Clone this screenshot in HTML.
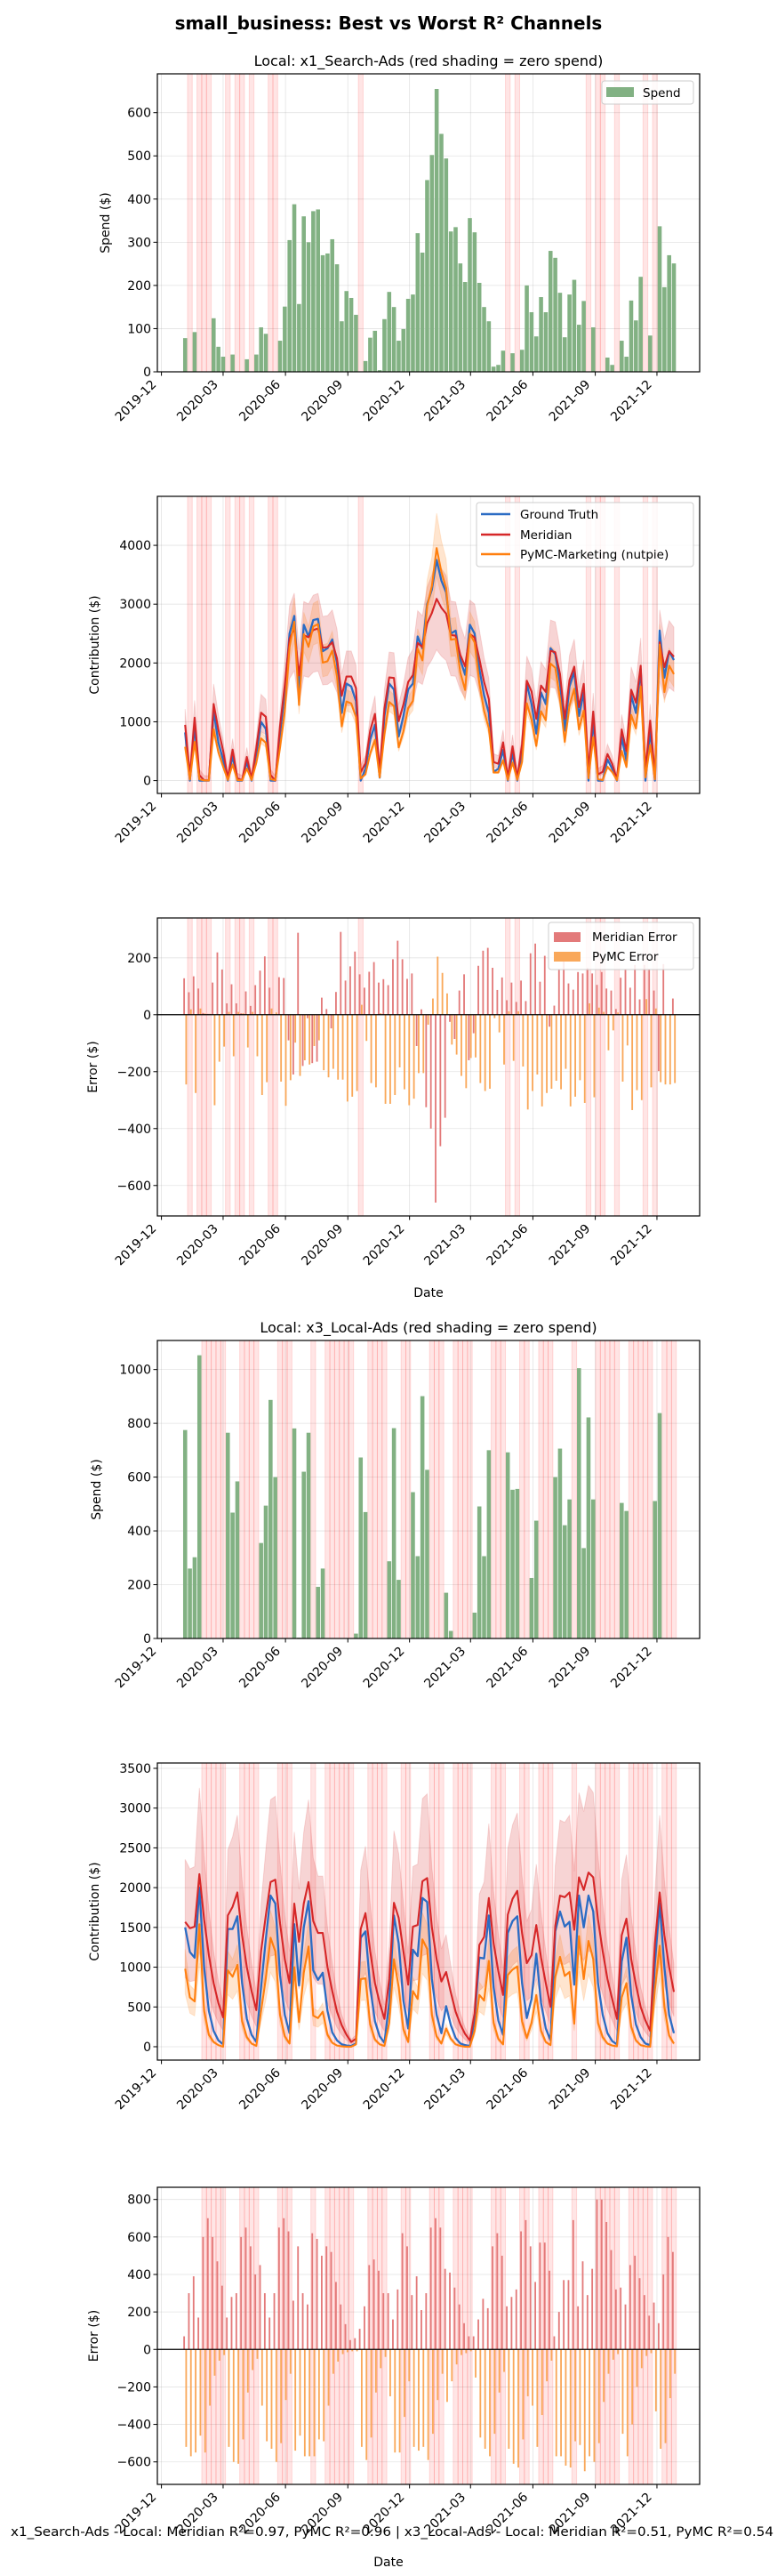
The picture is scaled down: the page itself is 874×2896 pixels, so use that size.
<!DOCTYPE html>
<html>
<head>
<meta charset="utf-8">
<style>
  html, body { margin: 0; padding: 0; background: #ffffff; }
  svg { display: block; font-family: "DejaVu Sans", "Liberation Sans", sans-serif; }
</style>
</head>
<body>
<svg id="fig" width="874" height="2896" viewBox="0 0 874 2896" xmlns="http://www.w3.org/2000/svg">
  <rect x="0" y="0" width="874" height="2896" fill="#ffffff"/>
  <text x="437" y="33" text-anchor="middle" font-size="20" font-weight="bold" fill="#000">small_business: Best vs Worst R² Channels</text>
  <text x="482" y="74" text-anchor="middle" font-size="16" fill="#000">Local: x1_Search-Ads (red shading = zero spend)</text>
  <text x="482" y="1498" text-anchor="middle" font-size="16" fill="#000">Local: x3_Local-Ads (red shading = zero spend)</text>
  <text x="482" y="1458" text-anchor="middle" font-size="14" fill="#000">Date</text>
  <text x="441" y="2851" text-anchor="middle" font-size="14" textLength="858" lengthAdjust="spacingAndGlyphs" fill="#000">x1_Search-Ads - Local: Meridian R²=0.97, PyMC R²=0.96 | x3_Local-Ads - Local: Meridian R²=0.51, PyMC R²=0.54</text>
  <text x="437" y="2885" text-anchor="middle" font-size="14" fill="#000">Date</text>
</svg>
<script>
// ---------- data: channel x1_Search-Ads ----------
const x1Spend = [78,0,92,0,0,0,124,58,35,0,
40,0,0,29,0,40,103,88,0,0,
72,151,305,388,157,360,300,372,376,270,
274,307,249,117,187,171,132,0,25,79,
95,4,122,185,150,72,99,169,179,321,
276,444,502,655,551,494,325,335,251,208,
356,323,206,150,117,12,16,49,0,43,
0,51,200,138,82,173,138,280,264,183,
80,179,213,109,164,0,103,0,0,33,
16,0,72,35,165,119,220,0,84,0,
337,196,270,251];
const x1Truth = [820,0,935,0,0,0,1190,650,350,0,
420,0,0,320,0,450,1000,880,0,0,
800,1500,2500,2800,1500,2650,2450,2730,2750,2200,
2250,2400,2000,1150,1650,1600,1350,0,200,700,
950,50,1100,1650,1550,750,1100,1550,1650,2450,
2250,3000,3250,3750,3400,3200,2500,2550,2050,1800,
2650,2500,1900,1450,1150,150,200,520,0,470,
0,500,1650,1300,800,1500,1300,2250,2150,1650,
850,1600,1850,1100,1500,0,1030,0,0,360,
200,0,740,340,1450,1150,1900,0,860,0,
2550,1750,2200,2050];
const x1MerErr = [128,79,135,92,6,3,113,219,159,40,
107,40,5,82,31,104,155,205,95,0,
132,129,-90,-210,288,-180,-12,-170,-165,60,
20,-48,80,291,120,170,222,142,95,151,
185,113,125,104,195,260,195,126,145,-110,
19,-325,-400,-660,-462,-362,-25,-85,85,142,
-160,-65,172,225,235,165,87,131,51,113,
45,120,48,216,250,116,207,-42,32,160,
200,110,88,150,145,165,145,105,150,92,
85,20,130,160,95,175,54,175,160,85,
-198,178,0,57];
const x1PyErr = [-245,19,-275,22,4,3,-318,-165,-112,10,
-146,10,5,-115,10,-146,-282,-237,22,8,
-235,-320,-230,-98,-215,-160,-175,-110,-90,-195,
-220,-190,-228,-228,-305,-288,-268,35,-92,-240,
-255,5,-313,-313,-282,-185,-262,-318,-295,-205,
-205,-35,57,204,147,75,-105,-140,-215,-258,
-152,-150,-240,-268,-260,-12,-62,-175,12,-162,
12,-182,-333,-268,-210,-322,-275,-260,-232,-262,
-190,-322,-288,-230,-310,40,-290,25,10,-125,
-55,8,-235,-108,-335,-265,-300,55,-255,22,
-237,-245,-245,-240];

// ---------- data: channel x3_Local-Ads ----------
const x3Spend = [775,260,302,1053,0,0,0,0,0,765,
468,584,0,0,0,0,355,494,887,600,
0,0,0,781,3,620,765,0,192,260,
0,0,0,0,0,0,18,673,470,0,
0,0,0,287,782,218,0,0,544,306,
901,627,0,0,0,170,28,0,0,0,
0,96,491,306,700,0,0,0,692,553,
556,0,0,225,438,0,0,0,600,706,
421,517,0,1005,336,822,517,0,0,0,
0,0,504,474,0,0,0,0,0,511,
838,0,0,0];
const x3Truth = [1500,1190,1120,2000,1000,450,200,80,30,1480,
1480,1640,800,350,150,60,750,1350,1900,1800,
900,400,170,1540,770,1500,1830,960,840,930,
450,180,80,30,15,10,40,1370,1450,750,
320,130,50,550,1650,1300,580,230,1220,1140,
1870,1820,850,400,170,510,270,110,40,20,
10,350,1120,1110,1650,750,330,150,1430,1580,
1640,800,360,600,1170,550,230,80,1450,1700,
1510,1570,780,1900,1500,1900,1700,800,400,170,
70,30,1070,1370,650,280,120,40,20,1050,
1800,1000,400,170];
const x3Meridian = [1570,1490,1510,2170,1600,1150,800,550,370,1650,
1760,1940,1400,1000,700,460,1200,1650,2070,2100,
1550,1100,800,1800,1320,1800,2070,1580,1430,1430,
1000,700,440,270,150,60,100,1480,1680,1200,
800,550,350,850,1810,1620,1200,780,1510,1530,
2080,2120,1500,1100,820,940,680,440,280,160,
80,420,1280,1380,1870,1300,950,650,1660,1860,
1960,1430,1050,1150,1530,1120,800,500,1520,1900,
1880,1940,1470,2130,1970,2190,2130,1600,1200,850,
600,350,1400,1610,1100,780,500,330,200,1300,
1940,1400,1000,690];
const x3PyMC = [980,620,570,1540,450,150,60,20,0,960,
880,1030,320,120,40,10,450,860,1370,1200,
400,130,40,1000,310,930,1260,390,360,440,
150,50,15,5,0,0,30,850,860,280,
90,30,10,300,1100,750,220,60,700,600,
1350,1230,400,130,40,230,100,30,10,0,
0,200,650,580,1080,300,100,30,900,970,
1010,320,110,300,650,200,60,20,880,1130,
890,940,290,1390,850,1330,1100,300,120,40,
15,5,620,800,250,80,20,5,0,720,
1270,500,140,40];

// ---------- tick labels ----------
const xTickDays = [0,91,183,275,366,456,548,640,731];
const xTickLabels = ['2019-12','2020-03','2020-06','2020-09','2020-12','2021-03','2021-06','2021-09','2021-12'];
const ticksSpend1 = [0,100,200,300,400,500,600];
const ticksContrib1 = [0,1000,2000,3000,4000];
const ticksErr1 = [-600,-400,-200,0,200];
const ticksSpend3 = [0,200,400,600,800,1000];
const ticksContrib3 = [0,500,1000,1500,2000,2500,3000,3500];
const ticksErr3 = [-600,-400,-200,0,200,400,600,800];

// ---------- layout ----------
const NS = 'http://www.w3.org/2000/svg';
const svg = document.getElementById('fig');
const L = 177, R = 787, D0 = -6, D1 = 794, START = 35;
function xd(d) { return L + (d - D0) / (D1 - D0) * (R - L); }
function weekDay(i) { return START + 7 * i; }
function xi(i) { return xd(weekDay(i)); }
function mk(tag, attrs, parent) {
  const e = document.createElementNS(NS, tag);
  for (const k in attrs) e.setAttribute(k, attrs[k]);
  (parent || svg).appendChild(e);
  return e;
}
function fmt(v) { return v < 0 ? '\u2212' + Math.abs(v) : String(v); }

function makePanel(id, top, bot, ymin, ymax) {
  const g = mk('g', {});
  
  
  const cp = mk('clipPath', { id: id + '-clip' }, g);
  mk('rect', { x: L, y: top, width: R - L, height: bot - top }, cp);
  const y = v => bot - (v - ymin) / (ymax - ymin) * (bot - top);
  return { id, top, bot, ymin, ymax, y, g, clip: 'url(#' + id + '-clip)' };
}

function drawGridAndShading(p, yticks, spend) {
  const gg = mk('g', {}, p.g);
  
  
  xTickDays.forEach(d => {
    mk('line', { x1: xd(d), x2: xd(d), y1: p.top, y2: p.bot, stroke: '#b0b0b0', 'stroke-opacity': 0.35, 'stroke-width': 0.8 }, gg);
  });
  yticks.forEach(v => {
    mk('line', { x1: L, x2: R, y1: p.y(v), y2: p.y(v), stroke: '#b0b0b0', 'stroke-opacity': 0.35, 'stroke-width': 0.8 }, gg);
  });
  const sg = mk('g', { 'clip-path': p.clip }, p.g);
  
  
  spend.forEach((v, i) => {
    if (v === 0) {
      const a = xd(weekDay(i) - 3.5), b = xd(weekDay(i) + 3.5);
      const r = mk('rect', { x: a, y: p.top, width: b - a, height: p.bot - p.top, fill: '#ff0000', 'fill-opacity': 0.1, stroke: '#ff0000', 'stroke-opacity': 0.12, 'stroke-width': 1 }, sg);
      
      
    }
  });
}

function finishAxes(p, yticks, ylabel, ylabX) {
  const fr = mk('rect', { x: L, y: p.top, width: R - L, height: p.bot - p.top, fill: 'none', stroke: '#000', 'stroke-width': 1.2 }, p.g);
  
  
  const xa = mk('g', {}, p.g);
  
  
  xTickDays.forEach((d, k) => {
    const x = xd(d);
    mk('line', { x1: x, x2: x, y1: p.bot, y2: p.bot + 4.5, stroke: '#000', 'stroke-width': 1 }, xa);
    const t = mk('text', { transform: 'translate(' + (x - 5) + ',' + (p.bot + 15) + ') rotate(-45)', 'text-anchor': 'end', 'font-size': 14, fill: '#000' }, xa);
    t.textContent = xTickLabels[k];
    
    
  });
  const ya = mk('g', {}, p.g);
  
  
  yticks.forEach(v => {
    const y = p.y(v);
    mk('line', { x1: L - 4.5, x2: L, y1: y, y2: y, stroke: '#000', 'stroke-width': 1 }, ya);
    const t = mk('text', { x: L - 7, y: y + 5, 'text-anchor': 'end', 'font-size': 14, fill: '#000' }, ya);
    t.textContent = fmt(v);
    
    
  });
  const mid = (p.top + p.bot) / 2;
  const yl = mk('text', { transform: 'translate(' + ylabX + ',' + mid + ') rotate(-90)', 'text-anchor': 'middle', 'font-size': 14, fill: '#000' }, p.g);
  yl.textContent = ylabel;
  
  
}

function drawSpendBars(p, spend) {
  const bg = mk('g', { 'clip-path': p.clip }, p.g);
  
  
  spend.forEach((v, i) => {
    if (v <= 0) return;
    const a = xd(weekDay(i) - 3), b = xd(weekDay(i) + 3);
    const r = mk('rect', { x: a, y: p.y(v), width: b - a, height: p.y(0) - p.y(v), fill: '#82b183' }, bg);
    
    
  });
}

function linePath(p, vals) {
  return vals.map((v, i) => (i ? 'L' : 'M') + xi(i).toFixed(2) + ',' + p.y(v).toFixed(2)).join(' ');
}
function bandPath(p, lo, hi) {
  let d = hi.map((v, i) => (i ? 'L' : 'M') + xi(i).toFixed(2) + ',' + p.y(v).toFixed(2)).join(' ');
  for (let i = lo.length - 1; i >= 0; i--) d += ' L' + xi(i).toFixed(2) + ',' + p.y(lo[i]).toFixed(2);
  return d + ' Z';
}

function drawContribution(p, truth, mer, py, merLoF, merHiF, merHiAdd, pyLoF, pyHiF) {
  const cg = mk('g', { 'clip-path': p.clip }, p.g);
  
  
  const mb = mk('path', { d: bandPath(p, mer.map(v => v * merLoF), mer.map(v => v * merHiF + merHiAdd)), fill: '#d62728', 'fill-opacity': 0.2, stroke: '#d62728', 'stroke-opacity': 0.15 }, cg);
  
  
  const pb = mk('path', { d: bandPath(p, py.map(v => v * pyLoF), py.map(v => v * pyHiF)), fill: '#ff7f0e', 'fill-opacity': 0.2, stroke: '#ff7f0e', 'stroke-opacity': 0.15 }, cg);
  
  
  const gl = mk('path', { d: linePath(p, truth), fill: 'none', stroke: '#2b6cc4', 'stroke-width': 2.3, 'stroke-linejoin': 'round' }, cg);
  
  
  const ml = mk('path', { d: linePath(p, mer), fill: 'none', stroke: '#d62728', 'stroke-width': 2.1, 'stroke-linejoin': 'round' }, cg);
  
  
  const pl = mk('path', { d: linePath(p, py), fill: 'none', stroke: '#ff7f0e', 'stroke-width': 2.1, 'stroke-linejoin': 'round' }, cg);
  
  
}

function drawErrors(p, merErr, pyErr) {
  const eg = mk('g', { 'clip-path': p.clip }, p.g);
  
  
  merErr.forEach((v, i) => {
    const a = xd(weekDay(i) - 2.7), b = xd(weekDay(i) - 0.3);
    const y0 = p.y(0), y1 = p.y(v);
    const r = mk('rect', { x: a, y: Math.min(y0, y1), width: b - a, height: Math.abs(y1 - y0), fill: '#e37a7a' }, eg);
    
    
  });
  pyErr.forEach((v, i) => {
    const a = xd(weekDay(i) + 0.3), b = xd(weekDay(i) + 2.7);
    const y0 = p.y(0), y1 = p.y(v);
    const r = mk('rect', { x: a, y: Math.min(y0, y1), width: b - a, height: Math.abs(y1 - y0), fill: '#f9a85a' }, eg);
    
    
  });
  const z = mk('line', { x1: L, x2: R, y1: p.y(0), y2: p.y(0), stroke: '#000', 'stroke-width': 1.3 }, p.g);
  
  
}

function legendBox(parent, x, y, w, h, name) {
  const g = mk('g', {}, parent);
  
  
  mk('rect', { x, y, width: w, height: h, rx: 3, fill: '#ffffff', 'fill-opacity': 0.85, stroke: '#cccccc', 'stroke-width': 1 }, g);
  return g;
}
function legendText(g, x, y, s, name) {
  const t = mk('text', { x, y: y + 5, 'font-size': 13.5, fill: '#000' }, g);
  t.textContent = s;
  
  
}

// ---------- Panel 1: x1 spend ----------
const p1 = makePanel('panel1-spend', 83, 418, 0, 690);
drawGridAndShading(p1, ticksSpend1, x1Spend);
drawSpendBars(p1, x1Spend);
finishAxes(p1, ticksSpend1, 'Spend ($)', 123);
{
  const g = legendBox(p1.g, 677, 91, 103, 26, 'panel1-legend');
  mk('rect', { x: 682, y: 98, width: 31, height: 11, fill: '#82b183' }, g);
  legendText(g, 723, 104, 'Spend', 'legend-entry-spend');
}

// ---------- Panel 2: x1 contribution ----------
const x1Meridian = x1Truth.map((v, i) => v + x1MerErr[i]);
const x1PyMC = x1Truth.map((v, i) => v + x1PyErr[i]);
const p2 = makePanel('panel2-contribution', 558, 892, -218, 4833);
drawGridAndShading(p2, ticksContrib1, x1Spend);
drawContribution(p2, x1Truth, x1Meridian, x1PyMC, 0.72, 1.2, 80, 0.88, 1.15);
finishAxes(p2, ticksContrib1, 'Contribution ($)', 111);
{
  const g = legendBox(p2.g, 536, 565, 244, 72, 'panel2-legend');
  mk('line', { x1: 541, x2: 574, y1: 578, y2: 578, stroke: '#2b6cc4', 'stroke-width': 2.5 }, g);
  legendText(g, 585, 578, 'Ground Truth', 'legend-entry-ground-truth');
  mk('line', { x1: 541, x2: 574, y1: 601, y2: 601, stroke: '#d62728', 'stroke-width': 2.5 }, g);
  legendText(g, 585, 601, 'Meridian', 'legend-entry-meridian');
  mk('line', { x1: 541, x2: 574, y1: 623, y2: 623, stroke: '#ff7f0e', 'stroke-width': 2.5 }, g);
  legendText(g, 585, 623, 'PyMC-Marketing (nutpie)', 'legend-entry-pymc');
}

// ---------- Panel 3: x1 errors ----------
const p3 = makePanel('panel3-error', 1032, 1367, -707, 340);
drawGridAndShading(p3, ticksErr1, x1Spend);
drawErrors(p3, x1MerErr, x1PyErr);
finishAxes(p3, ticksErr1, 'Error ($)', 109);
{
  const g = legendBox(p3.g, 617, 1037, 163, 53, 'panel3-legend');
  mk('rect', { x: 623, y: 1048, width: 30, height: 11, fill: '#e37a7a' }, g);
  legendText(g, 666, 1053, 'Meridian Error', 'legend-entry-meridian-error');
  mk('rect', { x: 623, y: 1070, width: 30, height: 11, fill: '#f9a85a' }, g);
  legendText(g, 666, 1075, 'PyMC Error', 'legend-entry-pymc-error');
}

// ---------- Panel 4: x3 spend ----------
const p4 = makePanel('panel4-spend', 1507, 1842, 0, 1108);
drawGridAndShading(p4, ticksSpend3, x3Spend);
drawSpendBars(p4, x3Spend);
finishAxes(p4, ticksSpend3, 'Spend ($)', 113);

// ---------- Panel 5: x3 contribution ----------
const p5 = makePanel('panel5-contribution', 1982, 2316, -168, 3567);
drawGridAndShading(p5, ticksContrib3, x3Spend);
drawContribution(p5, x3Truth, x3Meridian, x3PyMC, 0.55, 1.5, 0, 0.68, 1.25);
finishAxes(p5, ticksContrib3, 'Contribution ($)', 111);

// ---------- Panel 6: x3 errors ----------
const x3MerErr = x3Meridian.map((v, i) => v - x3Truth[i]);
const x3PyErr = x3PyMC.map((v, i) => v - x3Truth[i]);
const p6 = makePanel('panel6-error', 2459, 2793, -720, 865);
drawGridAndShading(p6, ticksErr3, x3Spend);
drawErrors(p6, x3MerErr, x3PyErr);
finishAxes(p6, ticksErr3, 'Error ($)', 110);
</script>
</body>
</html>
